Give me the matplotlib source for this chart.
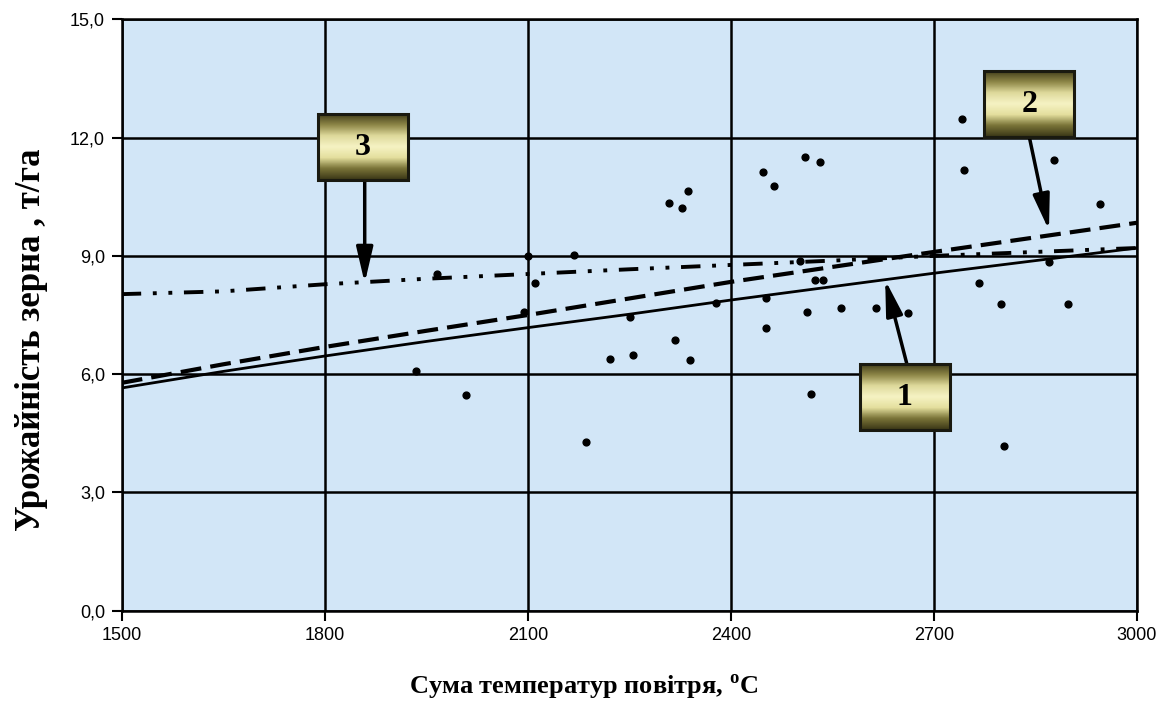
import numpy as np
import matplotlib
matplotlib.use('Agg')
import matplotlib.pyplot as plt
from matplotlib.colors import LinearSegmentedColormap
from matplotlib.patches import Rectangle

plt.rcParams['mathtext.fontset'] = 'custom'
plt.rcParams['mathtext.rm'] = 'Liberation Serif'
plt.rcParams['mathtext.bf'] = 'Liberation Serif:bold'

# observed points: sum of temperatures vs grain yield
obs_x = [1935, 2008, 1966, 2100, 2168, 2111, 2095, 2186, 2222, 2255,
         2317, 2340, 2251, 2309, 2328, 2336, 2378, 2452, 2452, 2448,
         2464, 2510, 2532, 2502, 2525, 2536, 2513, 2518, 2563, 2614,
         2662, 2742, 2745, 2767, 2799, 2804, 2870, 2877, 2898, 2946]
obs_y = [6.08, 5.47, 8.53, 9.00, 9.02, 8.32, 7.58, 4.29, 6.39, 6.48,
         6.86, 6.37, 7.44, 10.33, 10.22, 10.65, 7.80, 7.93, 7.17, 11.13,
         10.78, 11.52, 11.38, 8.87, 8.40, 8.40, 7.58, 5.49, 7.68, 7.68,
         7.55, 12.48, 11.17, 8.31, 7.77, 4.18, 8.85, 11.42, 7.77, 10.31]

# trend lines 1, 2, 3
line_x = [1500, 1650, 1800, 1950, 2100, 2250, 2400, 2550, 2700, 2850, 3000]
line1_y = [5.65, 6.07, 6.46, 6.83, 7.18, 7.52, 7.88, 8.22, 8.56, 8.88, 9.20]
line2_y = [5.78, 6.25, 6.69, 7.10, 7.50, 7.92, 8.34, 8.72, 9.10, 9.47, 9.84]
line3_y = [8.03, 8.10, 8.28, 8.42, 8.54, 8.66, 8.77, 8.88, 9.00, 9.10, 9.20]

x_ticks = [1500, 1800, 2100, 2400, 2700, 3000]
y_ticks = [0, 3, 6, 9, 12, 15]

box_cmap = LinearSegmentedColormap.from_list(
    'box', ['#3e3a18', '#8c8546', '#ddd89a', '#f6f3c4', '#e4df9e', '#7a7438', '#3a3616'])


def label_box(ax, text, cx, cy, w=133, h=1.68):
    grad = np.linspace(0, 1, 64).reshape(-1, 1)
    ax.imshow(grad, cmap=box_cmap, aspect='auto', origin='upper',
              extent=[cx - w / 2, cx + w / 2, cy - h / 2, cy + h / 2], zorder=6)
    ax.add_patch(Rectangle((cx - w / 2, cy - h / 2), w, h, fill=False,
                           edgecolor='#1a1a10', lw=2.2, zorder=7))
    ax.text(cx, cy, text, ha='center', va='center', fontsize=23, fontweight='bold',
            family='Liberation Serif', zorder=8)


fig = plt.figure(figsize=(11.66, 7.18), dpi=100)
ax = fig.add_axes([0.1044, 0.1494, 0.8707, 0.8237])
ax.set_facecolor('#d2e6f7')

ax.plot(line_x, line1_y, '-', color='black', lw=2.0, zorder=3)
ax.plot(line_x, line2_y, color='black', lw=3.0, dashes=(5, 2.2), zorder=3)
ax.plot(line_x, line3_y, color='black', lw=2.8, dashes=(5, 3, 1, 3, 1, 3), zorder=3)
ax.scatter(obs_x, obs_y, s=24, color='black', zorder=4)

label_box(ax, '3', 1856, 11.76)
label_box(ax, '2', 2841, 12.85)
label_box(ax, '1', 2657, 5.42)

arrow = dict(arrowstyle='-|>,head_length=1.2,head_width=0.28', lw=2.5, color='black',
             mutation_scale=18, shrinkA=0, shrinkB=0)
ax.annotate('', xy=(1859, 8.31), xytext=(1859, 10.92), arrowprops=arrow, zorder=5)
ax.annotate('', xy=(2870, 9.65), xytext=(2841, 12.01), arrowprops=arrow, zorder=5)
ax.annotate('', xy=(2628, 8.39), xytext=(2660, 6.26), arrowprops=arrow, zorder=5)

ax.set_xlim(1500, 3000)
ax.set_ylim(0, 15)
ax.set_xticks(x_ticks)
ax.set_yticks(y_ticks)
ax.set_yticklabels([f'{v:.1f}'.replace('.', ',') for v in y_ticks])
ax.tick_params(labelsize=13, length=7, width=1.5, direction='out', pad=5)
for lab in ax.get_xticklabels() + ax.get_yticklabels():
    lab.set_family('Liberation Sans')
ax.grid(True, color='black', lw=1.8)
ax.set_axisbelow(True)
for sp in ax.spines.values():
    sp.set_linewidth(1.8)

fig.text(0.5, 0.042, 'Сума температур повітря, $^{\\mathbf{o}}$C', ha='center', va='center',
         fontsize=19, fontweight='bold', family='Liberation Serif')
fig.text(0.027, 0.527, 'Урожайність зерна , т/га', ha='center', va='center', rotation=90,
         fontsize=25, fontweight='bold', family='Liberation Serif')

fig.savefig('out.png', dpi=100)
